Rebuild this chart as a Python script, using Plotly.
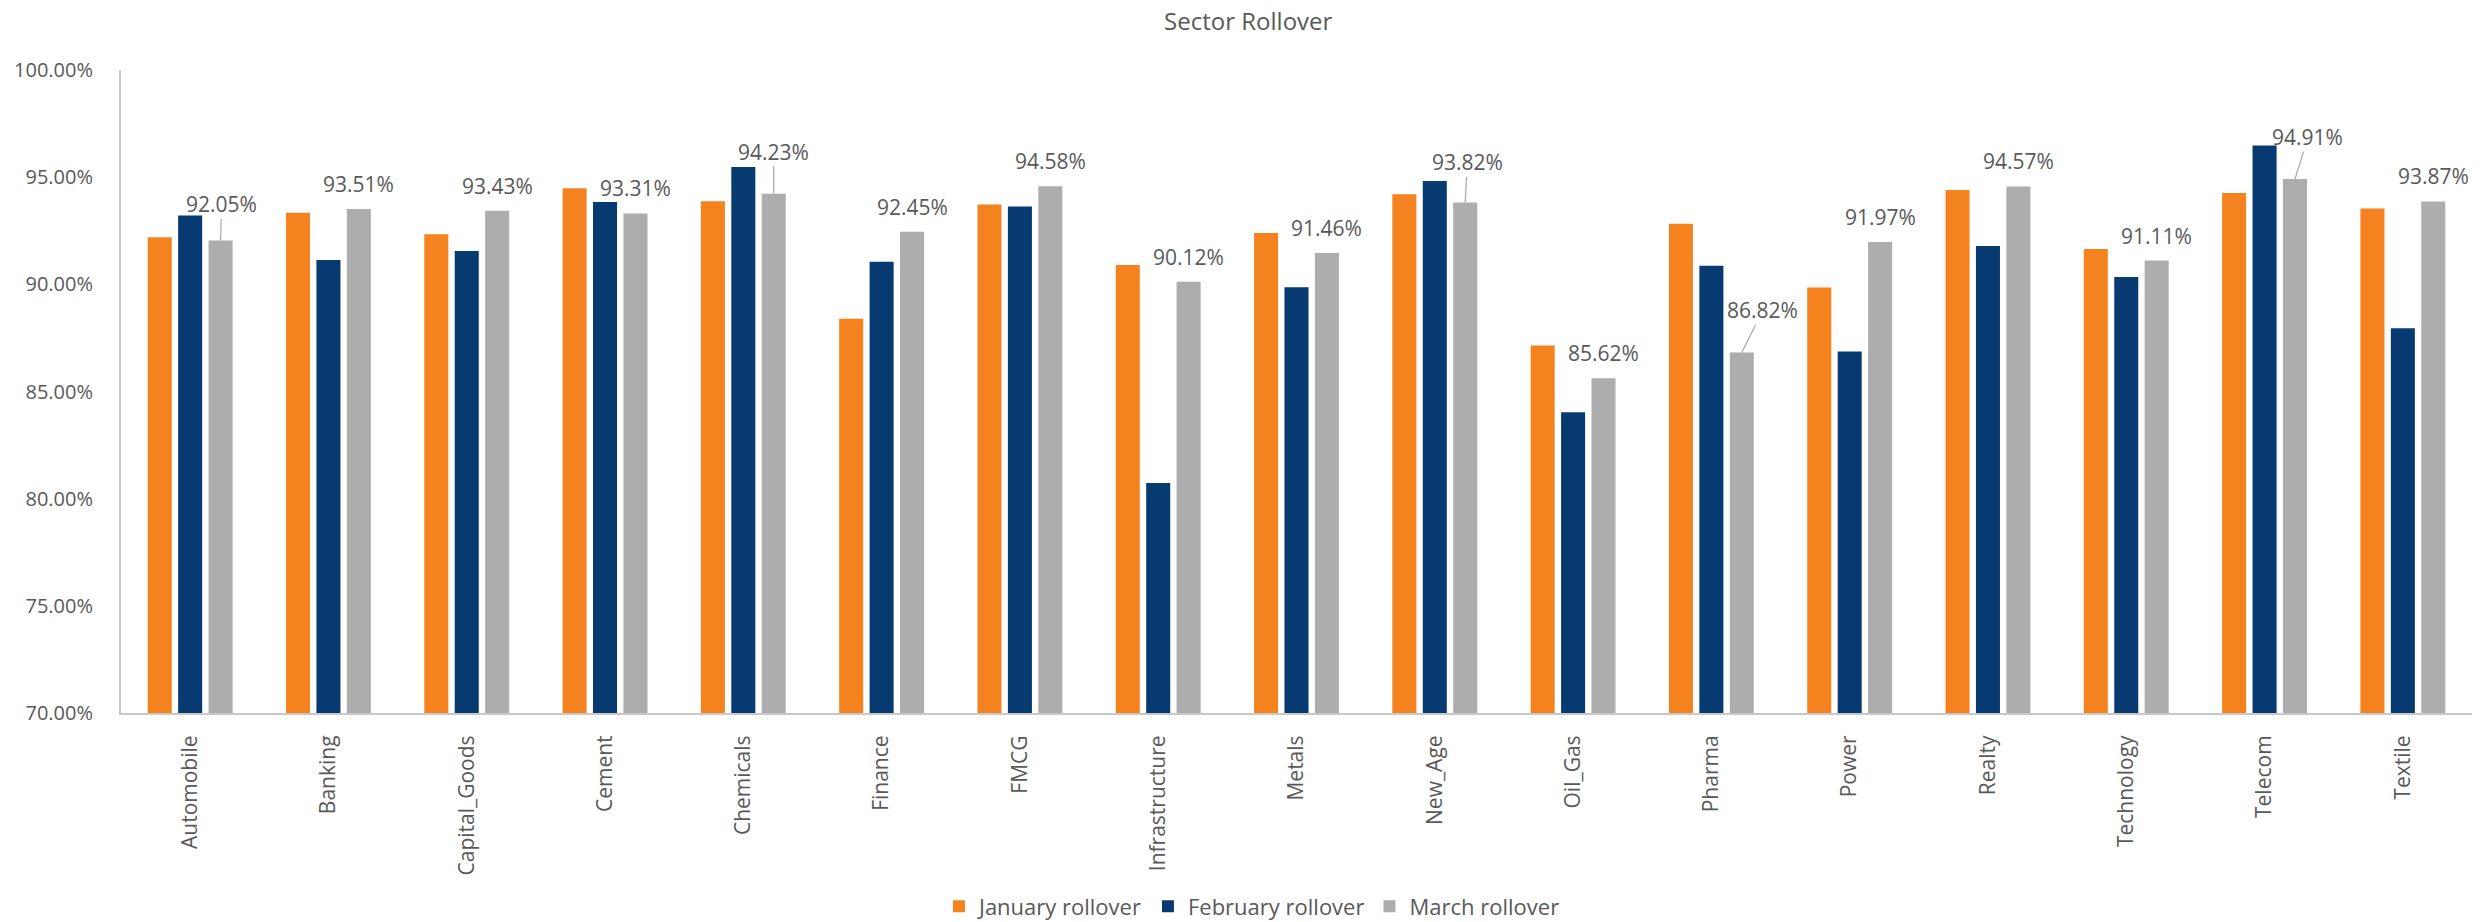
import plotly.graph_objects as go

sectors = ["Automobile", "Banking", "Capital_Goods", "Cement", "Chemicals", "Finance",
           "FMCG", "Infrastructure", "Metals", "New_Age", "Oil_Gas", "Pharma", "Power",
           "Realty", "Technology", "Telecom", "Textile"]
january = [92.20, 93.34, 92.34, 94.48, 93.88, 88.40, 93.72, 90.90, 92.40, 94.20, 87.15,
           92.83, 89.85, 94.40, 91.65, 94.26, 93.54]
february = [93.21, 91.14, 91.56, 93.84, 95.48, 91.05, 93.63, 80.73, 89.86, 94.82, 84.03,
            90.87, 86.87, 91.79, 90.34, 96.48, 87.95]
march = [92.05, 93.51, 93.43, 93.31, 94.23, 92.45, 94.58, 90.12, 91.46, 93.82, 85.62,
         86.82, 91.97, 94.57, 91.11, 94.91, 93.87]
series_names = ["January rollover", "February rollover", "March rollover"]
colors = ["#F4821F", "#073A70", "#ADADAD"]

# label leader-line offsets (pixels) for March labels that use a callout line
leader = {"Automobile": (1, -36), "Chemicals": (0, -42), "New_Age": (2, -40),
          "Pharma": (21, -42), "Telecom": (13, -42)}

FONT = "Open Sans"
TXT = "#595959"
bargap = 0.34
bargroupgap = 0.21

fig = go.Figure()
for name, vals, col in zip(series_names, [january, february, march], colors):
    fig.add_trace(go.Bar(x=sectors, y=vals, name=name, marker_color=col,
                         marker_line_width=0))

slot = (1 - bargap) / 3
for i, (s, v) in enumerate(zip(sectors, march)):
    txt = f"{v:.2f}%"
    if s in leader:
        ax, ay = leader[s]
        fig.add_annotation(x=i + slot, y=v, xref="x", yref="y", text=txt,
                           showarrow=True, arrowhead=0, arrowwidth=1.2,
                           arrowcolor="#A6A6A6", ax=ax, ay=ay, standoff=0,
                           font=dict(family=FONT, size=21, color=TXT), borderpad=0)
    else:
        fig.add_annotation(x=i + slot, y=v, xref="x", yref="y", text=txt,
                           showarrow=False, yshift=25,
                           font=dict(family=FONT, size=21, color=TXT))

fig.update_layout(
    width=2489, height=922,
    margin=dict(l=121, r=17, t=70, b=209, autoexpand=False),
    paper_bgcolor="white", plot_bgcolor="white",
    barmode="group", bargap=bargap, bargroupgap=bargroupgap,
    font=dict(family=FONT, size=20, color=TXT),
    title=dict(text="Sector Rollover", x=0.5015, xref="container", xanchor="center",
               y=0.977, yref="container", yanchor="middle",
               font=dict(family=FONT, size=24, color=TXT)),
    legend=dict(orientation="h", xref="container", yref="container",
                x=0.503, xanchor="center", y=0.017, yanchor="middle",
                font=dict(family=FONT, size=22, color=TXT),
                itemwidth=30, traceorder="normal"),
    showlegend=True,
)
fig.update_xaxes(type="category", showline=True, linecolor="#C8C8C8", linewidth=2,
                 showgrid=False, ticks="", tickangle=-90, ticklabelstandoff=12,
                 automargin=False, tickfont=dict(family=FONT, size=21, color=TXT))
fig.update_yaxes(range=[70, 100], dtick=5, tickformat=".2f", ticksuffix="%",
                 showline=True, linecolor="#C8C8C8", linewidth=2, showgrid=False,
                 zeroline=False, ticks="", ticklabelstandoff=22, automargin=False,
                 tickfont=dict(family=FONT, size=20, color=TXT))

fig.write_html("out.html")
